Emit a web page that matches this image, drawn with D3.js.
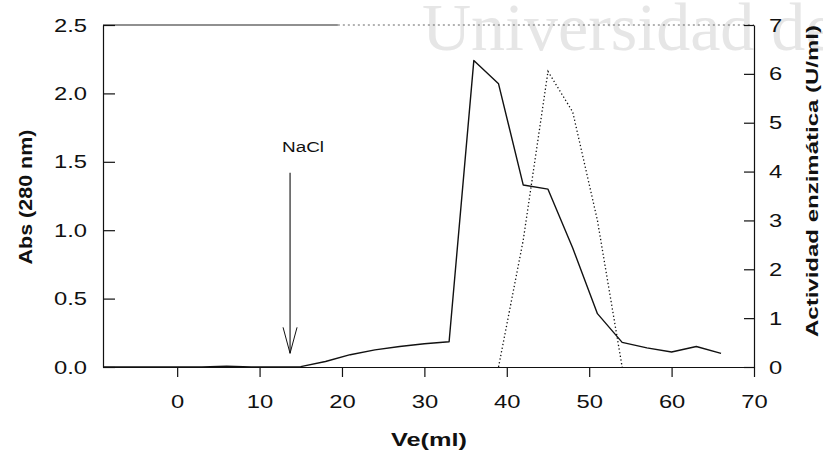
<!DOCTYPE html>
<html>
<head>
<meta charset="utf-8">
<script src="https://cdn.jsdelivr.net/npm/d3@7"></script>
<style>
  html, body { margin: 0; padding: 0; background: #fff; }
  svg { display: block; font-family: "Liberation Sans", Arial, sans-serif; }
  .axis path, .axis line { stroke: #111; stroke-width: 1.2; }
  .axis text { font-size: 19px; fill: #111; }
</style>
</head>
<body>
<div id="chart"></div>
<script>
// Elution profile: Abs 280 nm (solid) and enzyme activity (dotted) vs Ve

const ve = [-9, -6, -3, 0, 3, 6, 9, 12, 15, 18, 21, 24, 27, 30, 33, 36, 39, 42, 45, 48, 51, 54, 57, 60, 63, 66];
const abs280 = [0, 0, 0, 0, 0, 0.006, 0, 0, 0.003, 0.04, 0.09, 0.125, 0.15, 0.17, 0.185, 2.24, 2.07, 1.33, 1.30, 0.87, 0.39, 0.18, 0.14, 0.11, 0.15, 0.10];

const veAct = [39, 42, 45, 48, 51, 54];
const actividad = [0, 2.6, 6.05, 5.22, 3.0, 0];

const xTicks = [0, 10, 20, 30, 40, 50, 60, 70];
const yLeftTicks = [0, 0.5, 1.0, 1.5, 2.0, 2.5];
const yRightTicks = [0, 1, 2, 3, 4, 5, 6, 7];

// NaCl marker (Ve, from abs, to abs)
const naclVe = 13.7, naclTop = 1.42, naclBottom = 0.1;

const width = 823, height = 452;

const svg = d3.select('#chart').append('svg')
  .attr('width', width)
  .attr('height', height);

const x = d3.scaleLinear().domain([-9, 70]).range([103, 754]);
const yL = d3.scaleLinear().domain([0, 2.5]).range([367, 25]);
const yR = d3.scaleLinear().domain([0, 7]).range([367, 25]);

// stretch text horizontally like the scanned original
function stretch(sel, k) {
  sel.each(function () {
    const len = this.getComputedTextLength();
    d3.select(this).attr('textLength', len * k).attr('lengthAdjust', 'spacingAndGlyphs');
  });
}

// watermark
svg.append('text')
  .attr('x', 422).attr('y', 50)
  .style('font-family', '"Liberation Serif", "Times New Roman", serif')
  .style('font-size', '68px')
  .attr('fill', '#e6e6e6')
  .text('Universidad de');

// top frame (partly faded in the scan)
svg.append('line')
  .attr('x1', x(-9)).attr('x2', x(19.5)).attr('y1', yL(2.5)).attr('y2', yL(2.5))
  .attr('stroke', '#222').attr('stroke-width', 1.2);
svg.append('line')
  .attr('x1', x(19.5)).attr('x2', x(70)).attr('y1', yL(2.5)).attr('y2', yL(2.5))
  .attr('stroke', '#666').attr('stroke-width', 1).attr('stroke-dasharray', '2,3');

// axes
const gx = svg.append('g').attr('class', 'axis')
  .attr('transform', `translate(0,${yL(0)})`)
  .call(d3.axisBottom(x).tickValues(xTicks).tickFormat(d3.format('d'))
    .tickSizeInner(10).tickSizeOuter(0).tickPadding(18));
stretch(gx.selectAll('text'), 1.25);

const gl = svg.append('g').attr('class', 'axis')
  .attr('transform', `translate(${x(-9)},0)`)
  .call(d3.axisLeft(yL).tickValues(yLeftTicks).tickFormat(d3.format('.1f'))
    .tickSizeInner(-12).tickSizeOuter(0).tickPadding(16));
stretch(gl.selectAll('text'), 1.25);

const gr = svg.append('g').attr('class', 'axis')
  .attr('transform', `translate(${x(70)},0)`)
  .call(d3.axisRight(yR).tickValues(yRightTicks).tickFormat(d3.format('d'))
    .tickSizeInner(-10).tickSizeOuter(0).tickPadding(15));
stretch(gr.selectAll('text'), 1.25);

// series
const absLine = d3.line()
  .x((d, i) => x(ve[i]))
  .y(d => yL(d));

svg.append('path')
  .datum(abs280)
  .attr('d', absLine)
  .attr('fill', 'none')
  .attr('stroke', '#111')
  .attr('stroke-width', 1.4)
  .attr('stroke-linejoin', 'round');

const actLine = d3.line()
  .x((d, i) => x(veAct[i]))
  .y(d => yR(d));

svg.append('path')
  .datum(actividad)
  .attr('d', actLine)
  .attr('fill', 'none')
  .attr('stroke', '#111')
  .attr('stroke-width', 1.3)
  .attr('stroke-dasharray', '1.3,2.4');

// NaCl arrow
const ax = x(naclVe), ay0 = yL(naclTop), ay1 = yL(naclBottom);
svg.append('line')
  .attr('x1', ax).attr('x2', ax).attr('y1', ay0).attr('y2', ay1)
  .attr('stroke', '#111').attr('stroke-width', 1.1);
svg.append('path')
  .attr('d', `M${ax - 7},${ay1 - 26}L${ax},${ay1}L${ax + 7},${ay1 - 26}`)
  .attr('fill', 'none').attr('stroke', '#111').attr('stroke-width', 1);
svg.append('text')
  .attr('x', ax + 13).attr('y', ay0 - 21)
  .attr('text-anchor', 'middle')
  .style('font-size', '14px')
  .attr('fill', '#111')
  .attr('textLength', 42).attr('lengthAdjust', 'spacingAndGlyphs')
  .text('NaCl');

// axis titles
svg.append('text')
  .attr('x', 429).attr('y', 446)
  .attr('text-anchor', 'middle')
  .style('font-size', '18px').style('font-weight', 'bold')
  .attr('fill', '#111')
  .attr('textLength', 76).attr('lengthAdjust', 'spacingAndGlyphs')
  .text('Ve(ml)');

svg.append('text')
  .attr('transform', 'translate(32,197) rotate(-90)')
  .attr('text-anchor', 'middle')
  .style('font-size', '18px').style('font-weight', 'bold')
  .attr('fill', '#111')
  .attr('textLength', 135).attr('lengthAdjust', 'spacingAndGlyphs')
  .text('Abs (280 nm)');

svg.append('text')
  .attr('transform', 'translate(818,181) rotate(-90)')
  .attr('text-anchor', 'middle')
  .style('font-size', '17px').style('font-weight', 'bold')
  .attr('fill', '#111')
  .attr('textLength', 312).attr('lengthAdjust', 'spacingAndGlyphs')
  .text('Actividad enzimática (U/ml)');
</script>
</body>
</html>
